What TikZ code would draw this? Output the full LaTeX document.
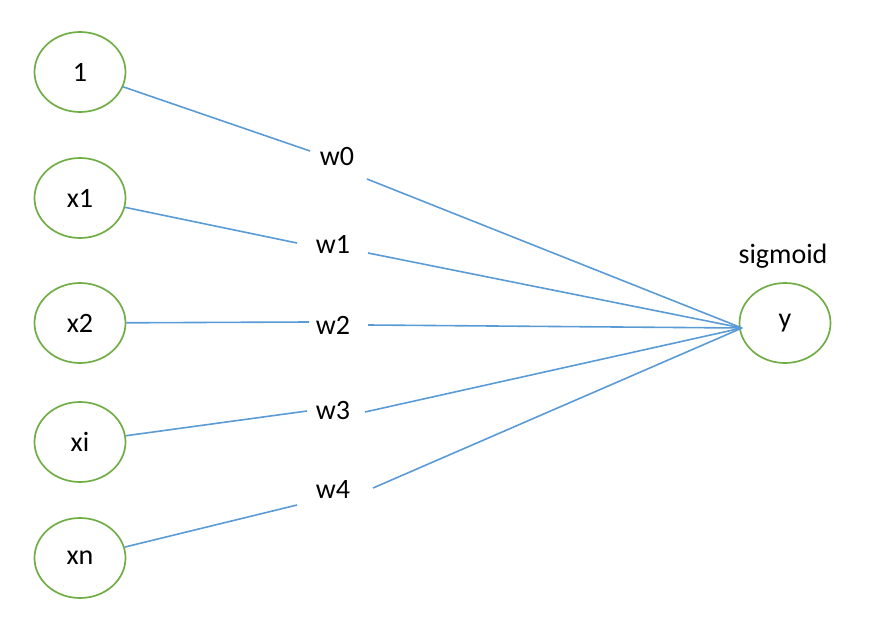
\documentclass[tikz,border=0pt]{standalone}
\usepackage{fontspec}
\setmainfont{Carlito}
\definecolor{ogreen}{RGB}{112,173,71}
\definecolor{oblue}{RGB}{91,155,213}
\begin{document}
\begin{tikzpicture}[x=1pt,y=-1pt,
  neuron/.style={ellipse,draw=ogreen,line width=1.7pt,minimum width=91pt,minimum height=80pt,inner sep=0pt,font=\fontsize{28}{32}\selectfont},
  wlab/.style={inner sep=0pt,font=\fontsize{28}{32}\selectfont},
  conn/.style={draw=oblue,line width=1.6pt}]
\useasboundingbox (0,0) rectangle (870,626);
\usetikzlibrary{shapes.geometric}
\node[neuron] (n0) at (80,72) {1};
\node[neuron] (n1) at (80,198) {x1};
\node[neuron] (n2) at (80,323) {x2};
\node[neuron] (n3) at (80,442) {xi};
\node[neuron] (n4) at (80,558) {xn};
\node[neuron] (y) at (785,323) {y};
\node[wlab] (sig) at (783,256) {sigmoid};
\node[wlab] (w0) at (337,157) {w0};
\node[wlab] (w1) at (333,244) {w1};
\node[wlab] (w2) at (333,325) {w2};
\node[wlab] (w3) at (333,411) {w3};
\node[wlab] (w4) at (333,490) {w4};
\coordinate (yin) at (742,328);
\coordinate (a0) at (310,151);
\coordinate (b0) at (367,179);
\coordinate (a1) at (297,243);
\coordinate (b1) at (368,253);
\coordinate (a2) at (309,322);
\coordinate (b2) at (368,325);
\coordinate (a3) at (307,411);
\coordinate (b3) at (365,412);
\coordinate (a4) at (297,505);
\coordinate (b4) at (373,488);
\foreach \i in {0,...,4}{
  \draw[conn] (n\i) -- (a\i);
  \draw[conn] (b\i) -- (yin);
}
\end{tikzpicture}
\end{document}
